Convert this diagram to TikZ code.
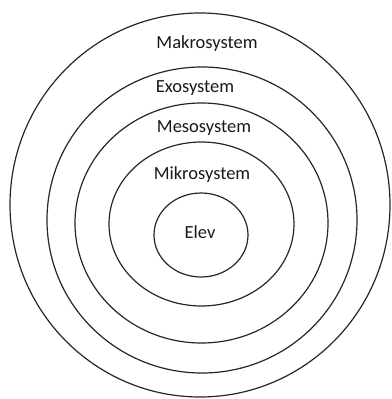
\documentclass[tikz,border=0pt]{standalone}
\usepackage{fontspec}
\setmainfont{Carlito}
\begin{document}
\begin{tikzpicture}[x=1pt,y=-1pt,
  ring/.style={draw=black!85, line width=1.2pt},
  lbl/.style={font=\fontsize{18.5}{21}\selectfont, text=black!90, inner sep=0pt}]
\useasboundingbox (0,0) rectangle (391,399);
\draw[ring] (200,205) ellipse [x radius=190, y radius=192];
\draw[ring] (202,220) ellipse [x radius=155, y radius=153];
\draw[ring] (201.5,223) ellipse [x radius=126.5, y radius=120];
\draw[ring] (201.5,224) ellipse [x radius=92.5, y radius=82];
\draw[ring] (201,235) ellipse [x radius=47, y radius=42];
\node[lbl] (makro) at (207,44) {Makrosystem};
\node[lbl] (exo) at (195,88) {Exosystem};
\node[lbl] (meso) at (204,128) {Mesosystem};
\node[lbl] (mikro) at (202,175) {Mikrosystem};
\node[lbl] (elev) at (200,232) {Elev};
\end{tikzpicture}
\end{document}
